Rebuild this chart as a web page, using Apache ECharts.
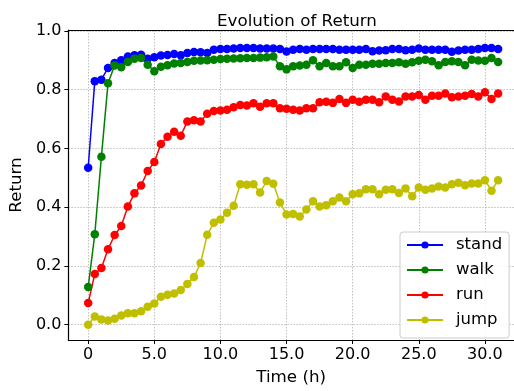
<!DOCTYPE html>
<html>
<head>
<meta charset="utf-8">
<script src="https://cdn.jsdelivr.net/npm/echarts@6/dist/echarts.min.js"></script>
<style>html,body{margin:0;padding:0;background:#fff}#c{width:514px;height:391px}</style>
</head>
<body>
<div id="c"></div>
<script>
const hours = [0,0.5,1,1.5,2,2.5,3,3.5,4,4.5,5,5.5,6,6.5,7,7.5,8,8.5,9,9.5,10,10.5,11,11.5,12,12.5,13,13.5,14,14.5,15,15.5,16,16.5,17,17.5,18,18.5,19,19.5,20,20.5,21,21.5,22,22.5,23,23.5,24,24.5,25,25.5,26,26.5,27,27.5,28,28.5,29,29.5,30,30.5,31];
const stand = [0.534,0.829,0.834,0.874,0.891,0.900,0.913,0.917,0.919,0.905,0.910,0.916,0.918,0.921,0.917,0.925,0.928,0.927,0.925,0.936,0.938,0.938,0.940,0.942,0.942,0.942,0.940,0.940,0.940,0.938,0.930,0.936,0.938,0.936,0.938,0.938,0.938,0.938,0.936,0.936,0.936,0.936,0.938,0.931,0.933,0.934,0.938,0.938,0.934,0.936,0.940,0.936,0.936,0.936,0.936,0.929,0.933,0.936,0.936,0.938,0.942,0.942,0.938];
const walk = [0.128,0.308,0.572,0.822,0.882,0.876,0.894,0.905,0.908,0.885,0.863,0.878,0.883,0.889,0.891,0.894,0.898,0.899,0.900,0.902,0.904,0.905,0.906,0.907,0.908,0.908,0.909,0.910,0.913,0.880,0.869,0.880,0.882,0.885,0.900,0.880,0.891,0.880,0.880,0.893,0.874,0.885,0.885,0.888,0.888,0.891,0.891,0.893,0.888,0.893,0.898,0.902,0.897,0.883,0.894,0.897,0.894,0.883,0.902,0.899,0.898,0.908,0.894];
const run = [0.074,0.173,0.193,0.257,0.305,0.336,0.402,0.447,0.474,0.523,0.554,0.615,0.640,0.657,0.643,0.692,0.696,0.692,0.718,0.727,0.729,0.732,0.740,0.748,0.746,0.754,0.742,0.754,0.754,0.737,0.735,0.732,0.729,0.737,0.737,0.757,0.759,0.755,0.768,0.755,0.766,0.759,0.766,0.766,0.757,0.777,0.766,0.760,0.777,0.777,0.782,0.766,0.779,0.779,0.787,0.774,0.777,0.779,0.785,0.777,0.791,0.768,0.787];
const jump = [0.000,0.028,0.018,0.014,0.020,0.031,0.039,0.039,0.046,0.061,0.072,0.095,0.102,0.106,0.118,0.139,0.162,0.210,0.306,0.347,0.358,0.381,0.405,0.478,0.476,0.478,0.450,0.489,0.480,0.416,0.375,0.377,0.368,0.392,0.420,0.402,0.407,0.420,0.433,0.420,0.444,0.447,0.461,0.461,0.444,0.459,0.461,0.448,0.464,0.437,0.467,0.459,0.464,0.470,0.467,0.478,0.483,0.475,0.481,0.481,0.492,0.456,0.492];
const xTicks = [0,5,10,15,20,25,30];
const yTicks = [0,0.2,0.4,0.6,0.8,1.0];
const seriesNames = ['stand','walk','run','jump'];
const seriesData = [stand, walk, run, jump];
const colors = ['#0000ff','#008000','#ff0000','#bfbf00'];

const FONT = 'DejaVu Sans';
const chart = echarts.init(document.getElementById('c'), null, {renderer:'canvas'});
const gridLine = {show:true, lineStyle:{color:'#b0b0b0', width:0.8, type:[1.5,1.5]}};
chart.setOption({
  animation:false,
  backgroundColor:'#fff',
  title:{text:'Evolution of Return', left:292, top:8, textAlign:'center',
    textStyle:{fontFamily:FONT, fontSize:16.7, fontWeight:'normal', color:'#000'}},
  grid:{left:66, top:30, right:0, bottom:46.3, show:false},
  legend:{
    orient:'vertical', left:400, top:232,
    padding:[4,7,9,6], itemGap:7, itemWidth:36, itemHeight:9,
    backgroundColor:'rgba(255,255,255,0.85)', borderColor:'#cccccc', borderWidth:1, borderRadius:3,
    textStyle:{fontFamily:FONT, fontSize:16.5, color:'#000', lineHeight:18, padding:[0,0,0,8]},
    data:seriesNames
  },
  xAxis:[{
    type:'value', min:-1.5, max:32.2,
    name:'Time (h)', nameLocation:'middle', nameGap:29,
    nameTextStyle:{fontFamily:FONT, fontSize:16.7, color:'#000'},
    axisLine:{show:true, onZero:false, lineStyle:{color:'#000', width:1.2}},
    axisTick:{show:true, customValues:xTicks, length:4, lineStyle:{color:'#000'}},
    axisLabel:{customValues:xTicks, margin:7, fontFamily:FONT, fontSize:16, color:'#000',
      formatter:v => v === 0 ? '0' : v.toFixed(1)},
    splitLine:gridLine
  },{
    type:'value', position:'top', min:-1.5, max:32.2,
    axisLine:{show:true, onZero:false, lineStyle:{color:'#000', width:1.2}},
    axisTick:{show:false}, axisLabel:{show:false}, splitLine:{show:false}
  }],
  yAxis:{
    type:'value', min:-0.052, max:1.003,
    name:'Return', nameLocation:'middle', nameGap:40, nameRotate:90,
    nameTextStyle:{fontFamily:FONT, fontSize:16.7, color:'#000'},
    axisLine:{show:true, onZero:false, lineStyle:{color:'#000', width:1.2}},
    axisTick:{show:true, customValues:yTicks, length:4, lineStyle:{color:'#000'}},
    axisLabel:{customValues:yTicks, margin:7, fontFamily:FONT, fontSize:16, color:'#000',
      formatter:v => v.toFixed(1)},
    splitLine:gridLine
  },
  series: seriesNames.map((n,i) => ({
    name:n, type:'line', xAxisIndex:0,
    data: hours.map((h,j) => [h, seriesData[i][j]]),
    symbol:'circle', symbolSize:8.5, showSymbol:true,
    itemStyle:{color:colors[i]},
    lineStyle:{color:colors[i], width:1.5},
    emphasis:{disabled:true}
  }))
});
</script>
</body>
</html>
